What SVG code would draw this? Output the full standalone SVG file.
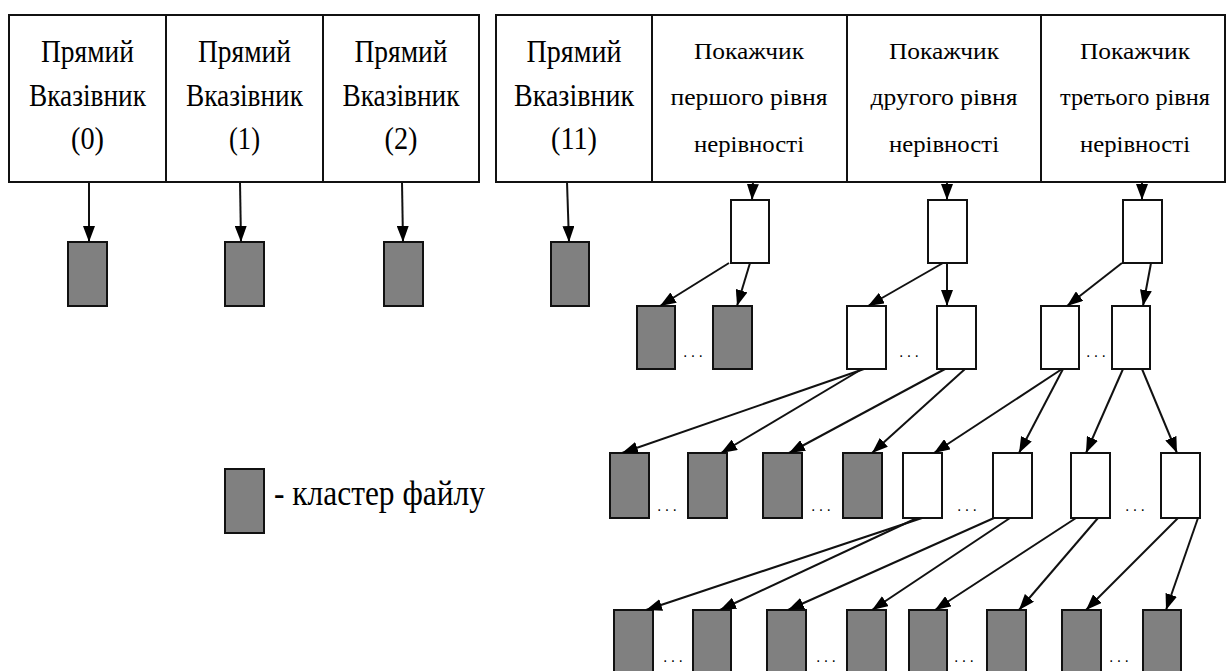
<svg xmlns="http://www.w3.org/2000/svg" width="1227" height="671" viewBox="0 0 1227 671">
<defs>
<marker id="ah" markerUnits="userSpaceOnUse" markerWidth="16" markerHeight="12" refX="16" refY="6" orient="auto">
<path d="M0,0 L16,6 L0,12 z" fill="#000"/>
</marker>
<style>
.cell{fill:#fff;stroke:#111;stroke-width:2}
.g{fill:#808080;stroke:#111;stroke-width:2}
.w{fill:#fff;stroke:#111;stroke-width:2}
.t{font-size:31px;fill:#000;text-anchor:middle}
.s{font-size:24px;fill:#000;text-anchor:middle}
.lg{font-size:36px;fill:#000}
.d{font-family:'DejaVu Sans',sans-serif;font-size:14px;fill:#000;text-anchor:middle}
.c line{stroke:#111;stroke-width:2;marker-end:url(#ah)}
</style>
</defs>
<rect width="1227" height="671" fill="#fff"/>

<g font-family="Liberation Serif, serif">
<g id="direct0"><rect class="cell" x="9" y="15" width="157" height="167"/>
<text class="t" x="87.5" y="62" textLength="93" lengthAdjust="spacingAndGlyphs">Прямий</text>
<text class="t" x="87.5" y="106" textLength="117" lengthAdjust="spacingAndGlyphs">Вказівник</text>
<text class="t" x="87.5" y="149" textLength="33" lengthAdjust="spacingAndGlyphs">(0)</text></g>
<g id="direct1"><rect class="cell" x="166" y="15" width="157" height="167"/>
<text class="t" x="244.5" y="62" textLength="93" lengthAdjust="spacingAndGlyphs">Прямий</text>
<text class="t" x="244.5" y="106" textLength="117" lengthAdjust="spacingAndGlyphs">Вказівник</text>
<text class="t" x="244.5" y="149" textLength="31" lengthAdjust="spacingAndGlyphs">(1)</text></g>
<g id="direct2"><rect class="cell" x="323" y="15" width="156" height="167"/>
<text class="t" x="401" y="62" textLength="93" lengthAdjust="spacingAndGlyphs">Прямий</text>
<text class="t" x="401" y="106" textLength="117" lengthAdjust="spacingAndGlyphs">Вказівник</text>
<text class="t" x="401" y="149" textLength="33" lengthAdjust="spacingAndGlyphs">(2)</text></g>

<g id="direct11"><rect class="cell" x="496" y="15" width="156" height="167"/>
<text class="t" x="574" y="62" textLength="95" lengthAdjust="spacingAndGlyphs">Прямий</text>
<text class="t" x="574" y="106" textLength="120" lengthAdjust="spacingAndGlyphs">Вказівник</text>
<text class="t" x="574" y="149" textLength="46" lengthAdjust="spacingAndGlyphs">(11)</text></g>
<g id="indirect1"><rect class="cell" x="652" y="15" width="195" height="167"/>
<text class="s" x="749" y="59" textLength="110" lengthAdjust="spacingAndGlyphs">Покажчик</text>
<text class="s" x="749" y="105" textLength="157" lengthAdjust="spacingAndGlyphs">першого рівня</text>
<text class="s" x="749" y="152" textLength="110" lengthAdjust="spacingAndGlyphs">нерівності</text></g>
<g id="indirect2"><rect class="cell" x="847" y="15" width="194" height="167"/>
<text class="s" x="944" y="59" textLength="110" lengthAdjust="spacingAndGlyphs">Покажчик</text>
<text class="s" x="944" y="105" textLength="147" lengthAdjust="spacingAndGlyphs">другого рівня</text>
<text class="s" x="944" y="152" textLength="110" lengthAdjust="spacingAndGlyphs">нерівності</text></g>
<g id="indirect3"><rect class="cell" x="1041" y="15" width="184" height="167"/>
<text class="s" x="1135" y="59" textLength="110" lengthAdjust="spacingAndGlyphs">Покажчик</text>
<text class="s" x="1135" y="105" textLength="150" lengthAdjust="spacingAndGlyphs">третього рівня</text>
<text class="s" x="1135" y="152" textLength="110" lengthAdjust="spacingAndGlyphs">нерівності</text></g>

<g id="legend">
<rect class="g" x="225" y="469" width="39" height="64"/>
<text class="lg" x="274" y="505" textLength="211" lengthAdjust="spacingAndGlyphs">- кластер файлу</text>
</g>
</g>

<g id="clusters-direct">
<rect class="g" x="68" y="242" width="39" height="64"/>
<rect class="g" x="225" y="242" width="39" height="64"/>
<rect class="g" x="384" y="242" width="39" height="64"/>
<rect class="g" x="551" y="242" width="38" height="64"/>
</g>

<g id="level1">
<rect class="w" x="731" y="200" width="38" height="63"/>
<rect class="w" x="928" y="200" width="39" height="63"/>
<rect class="w" x="1123" y="200" width="39" height="63"/>
</g>

<g id="level2">
<rect class="g" x="637" y="306" width="38" height="63"/>
<rect class="g" x="713" y="306" width="39" height="63"/>
<rect class="w" x="847" y="306" width="39" height="63"/>
<rect class="w" x="937" y="306" width="39" height="63"/>
<rect class="w" x="1041" y="306" width="38" height="63"/>
<rect class="w" x="1112" y="306" width="38" height="63"/>
<text class="d" x="693" y="357" textLength="20" lengthAdjust="spacing">...</text>
<text class="d" x="909" y="357" textLength="20" lengthAdjust="spacing">...</text>
<text class="d" x="1096" y="357" textLength="20" lengthAdjust="spacing">...</text>
</g>

<g id="level3">
<rect class="g" x="610" y="453" width="39" height="65"/>
<rect class="g" x="688" y="453" width="39" height="65"/>
<rect class="g" x="763" y="453" width="39" height="65"/>
<rect class="g" x="843" y="453" width="39" height="65"/>
<rect class="w" x="903" y="453" width="39" height="65"/>
<rect class="w" x="993" y="453" width="39" height="65"/>
<rect class="w" x="1071" y="453" width="39" height="65"/>
<rect class="w" x="1161" y="453" width="39" height="65"/>
<text class="d" x="667" y="511" textLength="20" lengthAdjust="spacing">...</text>
<text class="d" x="821" y="511" textLength="20" lengthAdjust="spacing">...</text>
<text class="d" x="967" y="511" textLength="20" lengthAdjust="spacing">...</text>
<text class="d" x="1135" y="511" textLength="20" lengthAdjust="spacing">...</text>
</g>

<g id="level4">
<rect class="g" x="614" y="610" width="39" height="66"/>
<rect class="g" x="693" y="610" width="38" height="66"/>
<rect class="g" x="767" y="610" width="39" height="66"/>
<rect class="g" x="847" y="610" width="39" height="66"/>
<rect class="g" x="909" y="610" width="38" height="66"/>
<rect class="g" x="987" y="610" width="39" height="66"/>
<rect class="g" x="1062" y="610" width="39" height="66"/>
<rect class="g" x="1143" y="610" width="38" height="66"/>
<text class="d" x="673" y="662" textLength="20" lengthAdjust="spacing">...</text>
<text class="d" x="826" y="662" textLength="20" lengthAdjust="spacing">...</text>
<text class="d" x="964" y="662" textLength="20" lengthAdjust="spacing">...</text>
<text class="d" x="1119" y="662" textLength="20" lengthAdjust="spacing">...</text>
</g>

<g id="connectors" class="c">
<line x1="89" y1="182" x2="89" y2="242"/>
<line x1="240" y1="182" x2="241" y2="242"/>
<line x1="402" y1="182" x2="403" y2="242"/>
<line x1="567" y1="182" x2="569" y2="242"/>
<line x1="753" y1="182" x2="752" y2="200"/>
<line x1="947" y1="182" x2="947" y2="200"/>
<line x1="1142" y1="182" x2="1142" y2="200"/>

<line x1="729" y1="263" x2="660" y2="306"/>
<line x1="750" y1="263" x2="737" y2="306"/>
<line x1="943" y1="263" x2="868" y2="306"/>
<line x1="947" y1="263" x2="947" y2="306"/>
<line x1="1122" y1="263" x2="1067" y2="306"/>
<line x1="1151" y1="263" x2="1143" y2="306"/>

<line x1="864" y1="369" x2="622" y2="453"/>
<line x1="862" y1="369" x2="721" y2="453"/>
<line x1="945" y1="369" x2="789" y2="453"/>
<line x1="965" y1="369" x2="872" y2="453"/>
<line x1="1062" y1="369" x2="934" y2="453"/>
<line x1="1063" y1="369" x2="1019" y2="453"/>
<line x1="1123" y1="369" x2="1086" y2="453"/>
<line x1="1142" y1="369" x2="1177" y2="453"/>

<line x1="922" y1="518" x2="646" y2="610"/>
<line x1="917" y1="518" x2="720" y2="610"/>
<line x1="994" y1="518" x2="788" y2="610"/>
<line x1="1010" y1="518" x2="872" y2="610"/>
<line x1="1076" y1="518" x2="935" y2="610"/>
<line x1="1098" y1="518" x2="1019" y2="610"/>
<line x1="1178" y1="518" x2="1086" y2="610"/>
<line x1="1198" y1="518" x2="1166" y2="610"/>
</g>
</svg>
